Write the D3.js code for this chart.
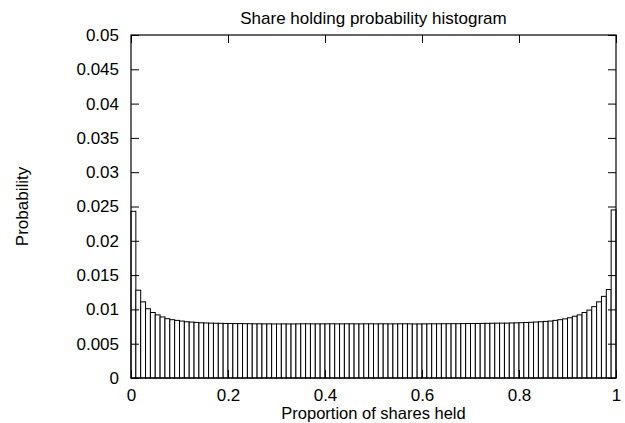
<!DOCTYPE html>
<html>
<head>
<title>Share holding probability histogram</title>
<script src="https://d3js.org/d3.v7.min.js"></script>
<style>
body { margin: 0; background: #fff; }
text { font-family: "Liberation Sans", Arial, sans-serif; font-size: 17px; fill: #000; }
</style>
</head>
<body>
<div id="chart"></div>
<script>
var title = "Share holding probability histogram";
var xLabel = "Proportion of shares held";
var yLabel = "Probability";
var xTicks = [0, 0.2, 0.4, 0.6, 0.8, 1];
var yTicks = [0, 0.005, 0.01, 0.015, 0.02, 0.025, 0.03, 0.035, 0.04, 0.045, 0.05];
var binWidth = 0.01;
// bin probabilities, left edge 0 .. 0.99
var probs = [
  0.0243, 0.0128, 0.0111, 0.0101, 0.00955, 0.0092, 0.0089, 0.00865, 0.0085, 0.0084,
  0.0083, 0.0082, 0.00815, 0.0081, 0.00805, 0.00802, 0.008, 0.00798, 0.00797, 0.00795,
  0.00794, 0.00793, 0.00793, 0.00792, 0.00791, 0.0079, 0.0079, 0.00789, 0.00789, 0.00788,
  0.00788, 0.00789, 0.00788, 0.00788, 0.00789, 0.0079, 0.0079, 0.00789, 0.00789, 0.00789,
  0.0079, 0.0079, 0.00789, 0.00789, 0.0079, 0.0079, 0.00789, 0.00789, 0.0079, 0.0079,
  0.00789, 0.0079, 0.0079, 0.00789, 0.00789, 0.0079, 0.0079, 0.00789, 0.00788, 0.00788,
  0.00789, 0.0079, 0.0079, 0.0079, 0.00791, 0.00791, 0.00792, 0.00792, 0.00793, 0.00794,
  0.00794, 0.00795, 0.00796, 0.00797, 0.00798, 0.00799, 0.008, 0.008, 0.00802, 0.00804,
  0.00806, 0.00809, 0.00812, 0.00816, 0.0082, 0.00825, 0.0083, 0.0084, 0.0085, 0.00862,
  0.00878, 0.009, 0.0092, 0.00955, 0.0099, 0.0104, 0.0111, 0.0119, 0.0129, 0.0245
];

var width = 625, height = 423;
var margin = {left: 131, right: 9, top: 35, bottom: 45};

var svg = d3.select("#chart").append("svg")
  .attr("width", width)
  .attr("height", height);

var x = d3.scaleLinear().domain([0, 1]).range([margin.left, width - margin.right]);
var y = d3.scaleLinear().domain([0, 0.05]).range([height - margin.bottom, margin.top]);

// bars
svg.append("g").selectAll("rect")
  .data(probs)
  .enter().append("rect")
  .attr("x", function(d, i) { return x(i * binWidth); })
  .attr("width", function(d, i) { return x((i + 1) * binWidth) - x(i * binWidth); })
  .attr("y", function(d) { return y(d); })
  .attr("height", function(d) { return y(0) - y(d); })
  .attr("fill", "#fff")
  .attr("stroke", "#000")
  .attr("stroke-width", 1);

// axes, ticks inward and mirrored
var tl = 8;
svg.append("g").attr("transform", "translate(0," + y(0) + ")")
  .call(d3.axisBottom(x).tickValues(xTicks).tickSizeInner(-tl).tickSizeOuter(0).tickPadding(11)
    .tickFormat(function(d) { return d3.format("")(+d.toFixed(2)); }));
svg.append("g").attr("transform", "translate(0," + y(0.05) + ")")
  .call(d3.axisTop(x).tickValues(xTicks).tickSizeInner(-tl).tickSizeOuter(0).tickFormat(""));
svg.append("g").attr("transform", "translate(" + x(0) + ",0)")
  .call(d3.axisLeft(y).tickValues(yTicks).tickSizeInner(-tl).tickSizeOuter(0).tickPadding(12)
    .tickFormat(function(d) { return d3.format("")(+d.toFixed(3)); }));
svg.append("g").attr("transform", "translate(" + x(1) + ",0)")
  .call(d3.axisRight(y).tickValues(yTicks).tickSizeInner(-tl).tickSizeOuter(0).tickFormat(""));

svg.selectAll(".tick text").style("font-size", "17px").style("font-family", "Liberation Sans, Arial, sans-serif").attr("fill", "#000");
svg.selectAll(".domain").remove();
svg.selectAll(".tick line").attr("stroke", "#000");

// frame
svg.append("rect")
  .attr("x", x(0)).attr("y", y(0.05))
  .attr("width", x(1) - x(0)).attr("height", y(0) - y(0.05))
  .attr("fill", "none").attr("stroke", "#000").attr("stroke-width", 1.2);

svg.append("text").attr("x", (x(0) + x(1)) / 2).attr("y", 24)
  .attr("text-anchor", "middle").text(title);
svg.append("text").attr("x", (x(0) + x(1)) / 2).attr("y", 419)
  .attr("text-anchor", "middle").style("font-size", "16.5px").text(xLabel);
svg.append("text")
  .attr("transform", "translate(28," + (y(0) + y(0.05)) / 2 + ") rotate(-90)")
  .attr("text-anchor", "middle").text(yLabel);
</script>
</body>
</html>
